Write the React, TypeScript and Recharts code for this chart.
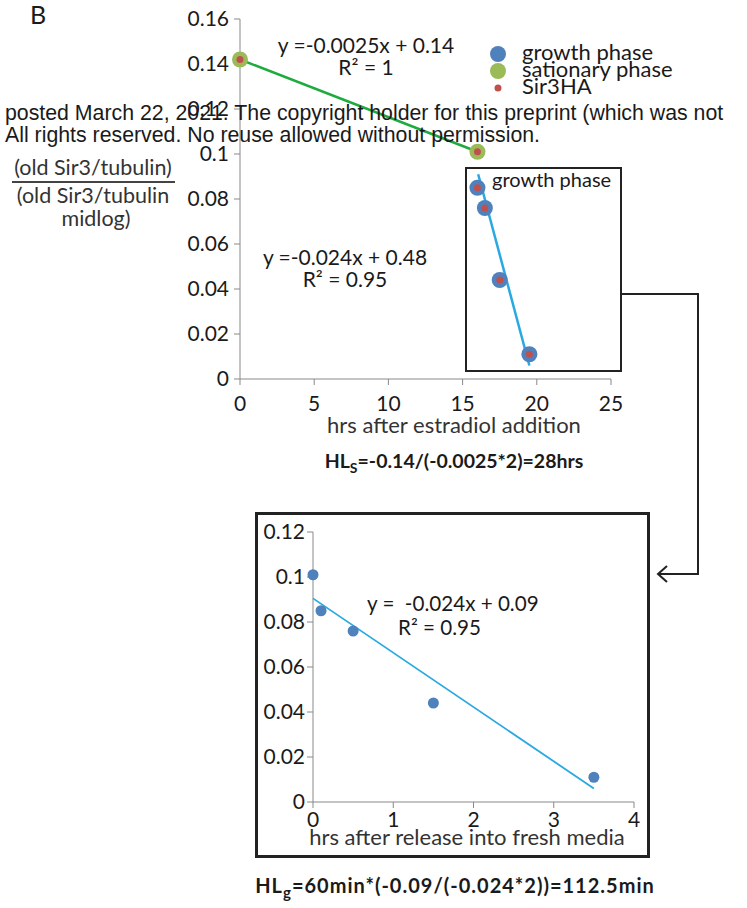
import React from "react";
import { ScatterChart, Scatter, XAxis, YAxis, ReferenceLine } from "recharts";

// top panel: hrs after estradiol addition
const growthPts = [
  { x: 16, y: 0.085 },
  { x: 16.5, y: 0.076 },
  { x: 17.5, y: 0.044 },
  { x: 19.5, y: 0.011 },
];
const stationaryPts = [
  { x: 0, y: 0.142 },
  { x: 16, y: 0.101 },
];
const sir3Pts = [...stationaryPts, ...growthPts];
const stationaryFit = [
  { x: 0, y: 0.142 },
  { x: 16, y: 0.101 },
];
const growthFit = [
  { x: 16.05, y: 0.091 },
  { x: 19.5, y: 0.006 },
];
const topXTicks = [0, 5, 10, 15, 20, 25];
const topYTicks = [0, 0.02, 0.04, 0.06, 0.08, 0.1, 0.12, 0.14, 0.16];

// bottom panel: hrs after release into fresh media
const releasePts = [
  { x: 0, y: 0.101 },
  { x: 0.1, y: 0.085 },
  { x: 0.5, y: 0.076 },
  { x: 1.5, y: 0.044 },
  { x: 3.5, y: 0.011 },
];
const releaseFit = [
  { x: 0, y: 0.0905 },
  { x: 3.5, y: 0.006 },
];
const botXTicks = [0, 1, 2, 3, 4];
const botYTicks = [0, 0.02, 0.04, 0.06, 0.08, 0.1, 0.12];

const legendItems = [
  { name: "growth phase", color: "#4F81BD", r: 8 },
  { name: "sationary phase", color: "#9BBB59", r: 8 },
  { name: "Sir3HA", color: "#C0504D", r: 3.5 },
];

const FONT = "Lato, 'Open Sans', sans-serif";
const AXIS = "#898989";
const BLUE = "#4F81BD";
const GREEN = "#9BBB59";
const RED = "#C0504D";
const INK = "#1a1a1a";

const dot = (r: number, fill: string) => (props: any) =>
  <circle cx={props.cx} cy={props.cy} r={r} fill={fill} />;

const tickStyle = { fontSize: 21, fill: INK, fontFamily: FONT };

const abs = (left: number, top: number, extra: React.CSSProperties = {}): React.CSSProperties => ({
  position: "absolute",
  left,
  top,
  fontFamily: FONT,
  color: INK,
  whiteSpace: "nowrap",
  lineHeight: 1,
  ...extra,
});

export default function App() {
  return (
    <div style={{ position: "absolute", left: 0, top: 0, width: 747, height: 908, background: "#fff" }}>
      <div style={abs(30, 2, { fontSize: 25 })}>B</div>

      <div style={{ position: "absolute", left: 0, top: 0 }}>
        <ScatterChart width={747} height={460} margin={{ top: 19, right: 136, left: 190, bottom: 51 }}>
          <XAxis
            type="number"
            dataKey="x"
            domain={[0, 25]}
            ticks={topXTicks}
            height={30}
            stroke={AXIS}
            tick={tickStyle}
            tickMargin={11}
          />
          <YAxis
            type="number"
            dataKey="y"
            domain={[0, 0.16]}
            ticks={topYTicks}
            width={50}
            stroke={AXIS}
            tick={tickStyle}
            tickMargin={5}
          />
          <Scatter data={growthPts} shape={dot(8, BLUE)} isAnimationActive={false} />
          <Scatter data={stationaryPts} shape={dot(8, GREEN)} isAnimationActive={false} />
          <ReferenceLine segment={stationaryFit} stroke="#1EAA3C" strokeWidth={2.5} ifOverflow="visible" />
          <ReferenceLine segment={growthFit} stroke="#29A9E1" strokeWidth={2.5} ifOverflow="visible" />
          <Scatter data={sir3Pts} shape={dot(3.5, RED)} isAnimationActive={false} />
        </ScatterChart>
      </div>

      {/* legend */}
      {legendItems.map((it, i) => (
        <div key={it.name} style={abs(488, 41 + i * 17, { fontSize: 22, display: "flex", alignItems: "center" })}>
          <svg width={34} height={22} style={{ display: "block" }}>
            <circle cx={10} cy={13} r={it.r} fill={it.color} />
          </svg>
          <span>{it.name}</span>
        </div>
      ))}

      {/* equations, top */}
      <div style={abs(266, 34, { fontSize: 21, width: 200, textAlign: "center", lineHeight: "22px" })}>
        y =-0.0025x + 0.14
        <br />
        R² = 1
      </div>
      <div style={abs(245, 246, { fontSize: 21, width: 200, textAlign: "center", lineHeight: "22px" })}>
        y =-0.024x + 0.48
        <br />
        R² = 0.95
      </div>

      {/* inset frame */}
      <div style={{ position: "absolute", left: 465, top: 167, width: 157, height: 205, border: "2px solid #222", boxSizing: "border-box" }} />
      <div style={abs(492, 169, { fontSize: 20 })}>growth phase</div>

      {/* y label */}
      <div style={abs(-7, 157, { fontSize: 21.5, width: 200, textAlign: "center", color: "#333" })}>(old Sir3/tubulin)</div>
      <div style={{ position: "absolute", left: 12, top: 181, width: 163, height: 1.5, background: "#444" }} />
      <div style={abs(-7, 185, { fontSize: 21.5, width: 200, textAlign: "center", color: "#333" })}>(old Sir3/tubulin</div>
      <div style={abs(-4, 208, { fontSize: 21.5, width: 200, textAlign: "center", color: "#333" })}>midlog)</div>

      <div style={abs(204, 414, { fontSize: 22, width: 500, textAlign: "center", color: "#333" })}>
        hrs after estradiol addition
      </div>

      <div style={abs(204, 451, { fontSize: 19.5, fontWeight: 700, width: 500, textAlign: "center" })}>
        HL<sub style={{ fontSize: 14 }}>S</sub>=-0.14/(-0.0025*2)=28hrs
      </div>

      {/* watermark */}
      <div style={abs(5, 102, { fontFamily: "'Liberation Sans', Arial, sans-serif", fontSize: 21.3, lineHeight: "22px" })}>
        posted March 22, 2021. The copyright holder for this preprint (which was not
        <br />
        All rights reserved. No reuse allowed without permission.
      </div>

      {/* connector */}
      <svg style={{ position: "absolute", left: 0, top: 0 }} width={747} height={908}>
        <polyline points="622,294 698,294 698,574 658,574" fill="none" stroke="#222" strokeWidth={2} />
        <polyline points="667,566 658,574 667,582" fill="none" stroke="#222" strokeWidth={2} />
      </svg>

      {/* bottom panel */}
      <div style={{ position: "absolute", left: 255, top: 512, width: 395, height: 346, border: "3px solid #222", boxSizing: "border-box" }}>
        <ScatterChart width={389} height={340} margin={{ top: 17, right: 13, left: 10, bottom: 23 }}>
          <XAxis
            type="number"
            dataKey="x"
            domain={[0, 4]}
            ticks={botXTicks}
            height={30}
            stroke={AXIS}
            tick={tickStyle}
            tickMargin={4}
          />
          <YAxis
            type="number"
            dataKey="y"
            domain={[0, 0.12]}
            ticks={botYTicks}
            width={45}
            stroke={AXIS}
            tick={tickStyle}
            tickMargin={2}
          />
          <ReferenceLine segment={releaseFit} stroke="#29A9E1" strokeWidth={1.8} ifOverflow="visible" />
          <Scatter data={releasePts} shape={dot(5.5, BLUE)} isAnimationActive={false} />
        </ScatterChart>
      </div>
      <div style={abs(367, 593, { fontSize: 20.6 })}>y =&nbsp; -0.024x + 0.09</div>
      <div style={abs(398, 617, { fontSize: 20.6 })}>R² = 0.95</div>
      <div style={abs(217, 826, { fontSize: 22, width: 500, textAlign: "center", color: "#333" })}>
        hrs after release into fresh media
      </div>
      <div style={abs(205, 875, { fontSize: 20, fontWeight: 700, width: 500, textAlign: "center", letterSpacing: 1 })}>
        HL<sub style={{ fontSize: 15 }}>g</sub>=60min*(-0.09/(-0.024*2))=112.5min
      </div>
    </div>
  );
}
